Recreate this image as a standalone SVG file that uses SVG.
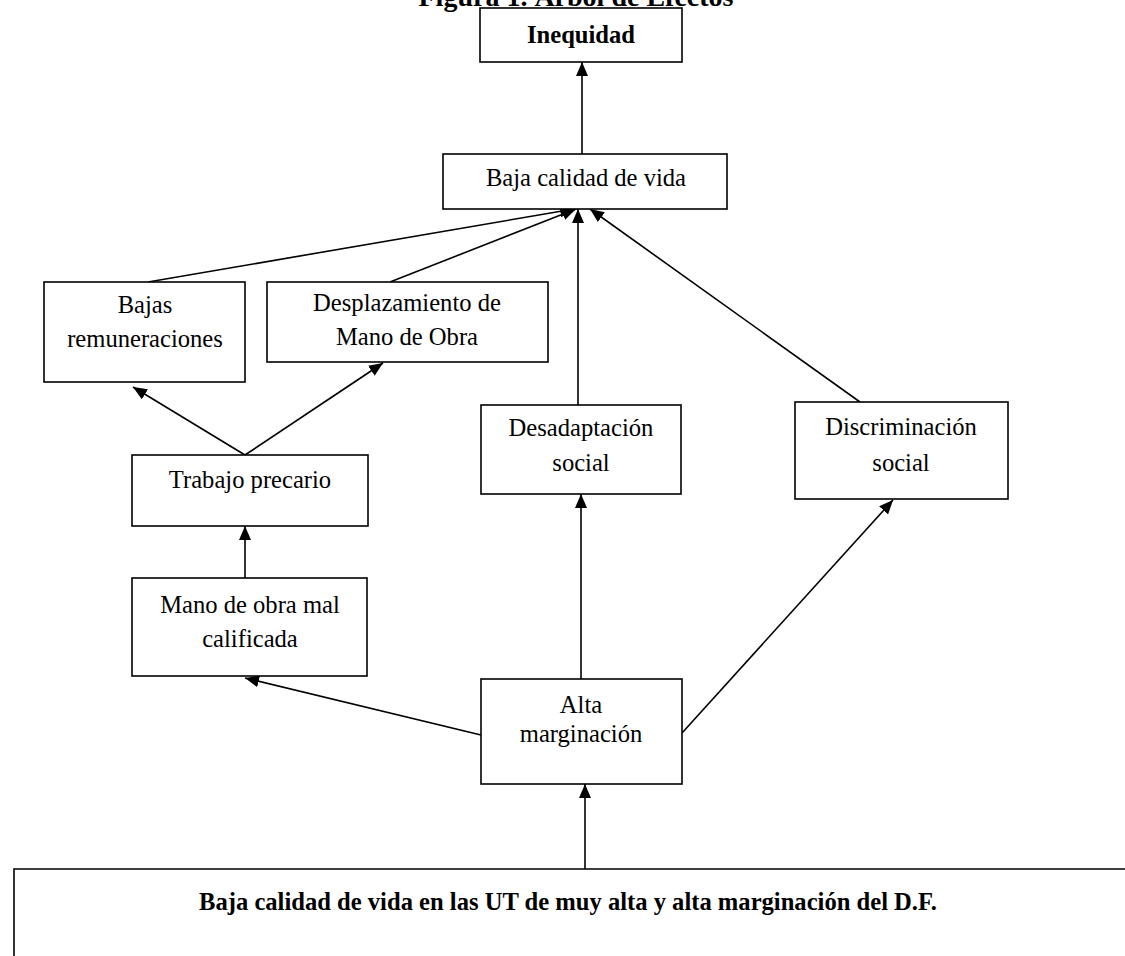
<svg xmlns="http://www.w3.org/2000/svg" width="1125" height="956" viewBox="0 0 1125 956">
<style>
.box{fill:#fff;stroke:#000;stroke-width:1.6}
.t{font-family:"Liberation Serif","Times New Roman",serif;font-size:24.6px;fill:#000;text-anchor:middle}
.b{font-weight:bold}
.c{stroke:#000;stroke-width:1.6;fill:none;marker-end:url(#ah)}
</style>
<defs>
<marker id="ah" markerUnits="userSpaceOnUse" markerWidth="14" markerHeight="12" refX="14" refY="6" orient="auto">
<path d="M0,0 L14,6 L0,12 z" fill="#000"/>
</marker>
</defs>
<rect width="1125" height="956" fill="#fff"/>
<text class="t b" x="576" y="6" style="font-size:28px">Figura 1. Árbol de Efectos</text>
<g id="connectors">
<line class="c" x1="582" y1="154" x2="582" y2="62"/>
<line class="c" x1="148" y1="282" x2="574" y2="209"/>
<line class="c" x1="390" y1="282" x2="576" y2="209"/>
<line class="c" x1="578" y1="405" x2="578" y2="209"/>
<line class="c" x1="860" y1="402" x2="590" y2="209"/>
<line class="c" x1="245" y1="455" x2="133" y2="387"/>
<line class="c" x1="245" y1="455" x2="383" y2="363"/>
<line class="c" x1="245" y1="578" x2="245" y2="526"/>
<line class="c" x1="481" y1="735" x2="245" y2="678"/>
<line class="c" x1="581" y1="679" x2="581" y2="494"/>
<line class="c" x1="682" y1="733" x2="893" y2="500"/>
<line class="c" x1="585" y1="869" x2="585" y2="784"/>
</g>
<g id="n-inequidad">
<rect class="box" x="480" y="8" width="202" height="54"/>
<text class="t b" x="581" y="43">Inequidad</text>
</g>
<g id="n-baja-calidad">
<rect class="box" x="443" y="154" width="284" height="55"/>
<text class="t" x="586" y="186">Baja calidad de vida</text>
</g>
<g id="n-bajas-remuneraciones">
<rect class="box" x="44" y="282" width="201" height="100"/>
<text class="t" x="145" y="313">Bajas</text>
<text class="t" x="145" y="347">remuneraciones</text>
</g>
<g id="n-desplazamiento">
<rect class="box" x="267" y="282" width="281" height="80"/>
<text class="t" x="407" y="311">Desplazamiento de</text>
<text class="t" x="407" y="345">Mano de Obra</text>
</g>
<g id="n-desadaptacion">
<rect class="box" x="481" y="405" width="200" height="89"/>
<text class="t" x="581" y="436">Desadaptación</text>
<text class="t" x="581" y="471">social</text>
</g>
<g id="n-discriminacion">
<rect class="box" x="795" y="402" width="213" height="97"/>
<text class="t" x="901" y="435">Discriminación</text>
<text class="t" x="901" y="471">social</text>
</g>
<g id="n-trabajo-precario">
<rect class="box" x="132" y="455" width="236" height="71"/>
<text class="t" x="250" y="488">Trabajo precario</text>
</g>
<g id="n-mano-obra">
<rect class="box" x="132" y="578" width="235" height="98"/>
<text class="t" x="250" y="613">Mano de obra mal</text>
<text class="t" x="250" y="647">calificada</text>
</g>
<g id="n-alta-marginacion">
<rect class="box" x="481" y="679" width="201" height="105"/>
<text class="t" x="581" y="713">Alta</text>
<text class="t" x="581" y="742">marginación</text>
</g>
<g id="n-problema">
<path class="box" d="M1130,869 L14,869 L14,960"/>
<text class="t b" x="568" y="910">Baja calidad de vida en las UT de muy alta y alta marginación del D.F.</text>
</g>
</svg>
